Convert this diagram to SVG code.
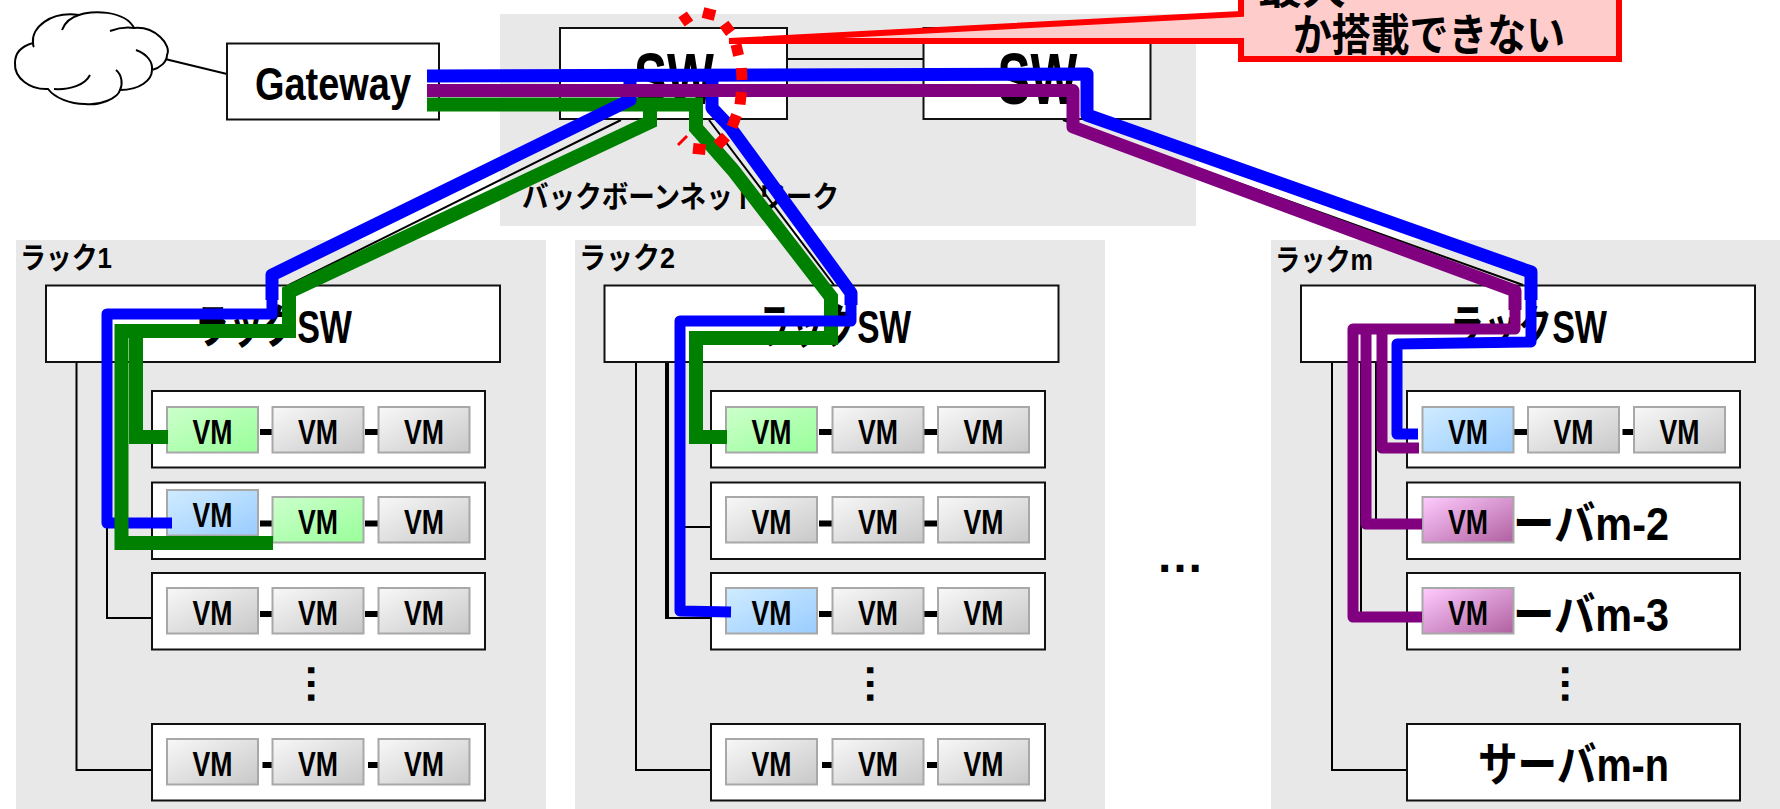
<svg xmlns="http://www.w3.org/2000/svg" width="1780" height="809" viewBox="0 0 1780 809">
<style>
text{font-family:"Liberation Sans","Noto Sans CJK JP",sans-serif;font-weight:bold;fill:#000;text-anchor:middle}
.area{fill:#e8e8e8}
.box{fill:#fff;stroke:#111;stroke-width:2}
.vm rect{stroke:#a8a8a8;stroke-width:2}
.vm text{font-size:35px}
.gray rect{fill:url(#gGray)}
.green rect{fill:url(#gGreen)}
.blue rect{fill:url(#gBlue)}
.pink rect{fill:url(#gPink)}
.thin{fill:none;stroke:#000;stroke-width:2}
.dash{fill:none;stroke:#000;stroke-width:6}
.path{fill:none;stroke-width:13}
.pb{stroke:#0000ff;stroke-linejoin:round}
.pg{stroke:#008000;stroke-linejoin:miter;stroke-width:14}
.pp{stroke:#800080;stroke-linejoin:round}
.in{stroke-width:11}
.sw{font-size:47px}
.big{font-size:72px}
.lab{font-size:30px}
</style>
<defs>
<linearGradient id="gGray" x1="0" y1="0" x2="1" y2="1"><stop offset="0" stop-color="#f8f8f8"/><stop offset="1" stop-color="#c8c8c8"/></linearGradient>
<linearGradient id="gGreen" x1="0" y1="0" x2="1" y2="1"><stop offset="0" stop-color="#ccffcc"/><stop offset="1" stop-color="#99ff99"/></linearGradient>
<linearGradient id="gBlue" x1="0" y1="0" x2="1" y2="1"><stop offset="0" stop-color="#d0ecff"/><stop offset="1" stop-color="#99ccff"/></linearGradient>
<linearGradient id="gPink" x1="0" y1="0" x2="1" y2="1"><stop offset="0" stop-color="#ffccff"/><stop offset="1" stop-color="#b060a0"/></linearGradient>
</defs>

<g id="areas">
<rect class="area" x="500" y="14" width="696" height="212"/>
<rect class="area" x="16" y="240" width="530" height="569"/>
<rect class="area" x="575" y="240" width="530" height="569"/>
<rect class="area" x="1271" y="240" width="509" height="569"/>
<text class="lab" x="680.5" y="207" textLength="317" lengthAdjust="spacingAndGlyphs">バックボーンネットワーク</text>
<text class="lab" x="66" y="268" textLength="92" lengthAdjust="spacingAndGlyphs">ラック1</text>
<text class="lab" x="627" y="268" textLength="96" lengthAdjust="spacingAndGlyphs">ラック2</text>
<text class="lab" x="1324" y="270" textLength="98" lengthAdjust="spacingAndGlyphs">ラックm</text>
</g>

<g id="base-links">
<path class="thin" d="M165,59L227,74"/>
<path class="thin" d="M787,59H923" stroke-width="3"/>
<path class="thin" d="M621,120L289,285M709,120L834,285M1063,120L1523,285"/>
<path class="thin" d="M76.5,362V770H152M107,362V618H152"/>
<path class="thin" d="M636,362V770H711M666,362V618H711M668,362V618M680,527H711"/>
<path class="thin" d="M1332,362V770H1407M1376,362V524M1361,362V617"/>
</g>

<g id="cloud">
<path d="M33,43C31,28 50,11 79,15C90,10 125,10 134,28C155,26 172,45 167,55C167,62 160,68 152,70C152,80 140,90 120,90C118,98 100,106 85,104C70,104 55,98 48,89C30,90 14,78 15,63C15,52 22,46 33,43Z" fill="#fff" stroke="#000" stroke-width="2"/>
<path d="M62,30C65,22 72,17 79,15M110,31C118,28 127,27 134,28M136,50C147,54 153,62 152,70M116,70C122,75 123,84 120,90M90,75C85,85 70,90 54,89M33,43Q33,46 34,47" fill="none" stroke="#000" stroke-width="2"/>
</g>

<g id="gateway"><rect class="box" x="227" y="43.5" width="212" height="76"/><text x="333" y="100" font-size="46" textLength="156" lengthAdjust="spacingAndGlyphs">Gateway</text></g>
<g id="sw1"><rect class="box" x="560" y="28" width="227" height="91"/><text class="big" x="674" y="104" textLength="80" lengthAdjust="spacingAndGlyphs">SW</text></g>
<g id="sw2"><rect class="box" x="923.5" y="28" width="227" height="91"/><text class="big" x="1037.5" y="104" textLength="80" lengthAdjust="spacingAndGlyphs">SW</text></g>

<g id="rack1-sw"><rect class="box" x="46" y="285.5" width="454" height="76.5"/><text class="sw" x="273.5" y="343" textLength="157" lengthAdjust="spacingAndGlyphs">ラックSW</text></g>
<g id="rack2-sw"><rect class="box" x="604.5" y="285.5" width="454" height="76.5"/><text class="sw" x="834" y="343" textLength="154" lengthAdjust="spacingAndGlyphs">ラックSW</text></g>
<g id="rackm-sw"><rect class="box" x="1301" y="285.5" width="454" height="76.5"/><text class="sw" x="1528.5" y="343" textLength="157" lengthAdjust="spacingAndGlyphs">ラックSW</text></g>

<g id="rack1-servers">
<rect class="box" x="152" y="391" width="333" height="76.5"/>
<rect class="box" x="152" y="482.5" width="333" height="76.5"/>
<rect class="box" x="152" y="573" width="333" height="76.5"/>
<rect class="box" x="152" y="724" width="333" height="76.5"/>
<path class="dash" d="M260,432H272M365,432H378M260,523.5H272M365,523.5H378M260,614H272M365,614H378M262.500,765H272M368,765H378"/>
<g id="r1s1v1" class="vm green"><rect x="167" y="407" width="91" height="45.5"/><text x="212.5" y="443.5" textLength="40" lengthAdjust="spacingAndGlyphs">VM</text></g>
<g id="r1s1v2" class="vm gray"><rect x="272.5" y="407" width="91" height="45.5"/><text x="318" y="443.5" textLength="40" lengthAdjust="spacingAndGlyphs">VM</text></g>
<g id="r1s1v3" class="vm gray"><rect x="378.5" y="407" width="91" height="45.5"/><text x="424" y="443.5" textLength="40" lengthAdjust="spacingAndGlyphs">VM</text></g>
<g id="r1s2v1" class="vm blue"><rect x="167" y="490" width="91" height="45.5"/><text x="212.5" y="527" textLength="40" lengthAdjust="spacingAndGlyphs">VM</text></g>
<g id="r1s2v2" class="vm green"><rect x="272.5" y="497" width="91" height="45.5"/><text x="318" y="534" textLength="40" lengthAdjust="spacingAndGlyphs">VM</text></g>
<g id="r1s2v3" class="vm gray"><rect x="378.5" y="497" width="91" height="45.5"/><text x="424" y="534" textLength="40" lengthAdjust="spacingAndGlyphs">VM</text></g>
<g id="r1s3v1" class="vm gray"><rect x="167" y="588" width="91" height="45.5"/><text x="212.5" y="625" textLength="40" lengthAdjust="spacingAndGlyphs">VM</text></g>
<g id="r1s3v2" class="vm gray"><rect x="272.5" y="588" width="91" height="45.5"/><text x="318" y="625" textLength="40" lengthAdjust="spacingAndGlyphs">VM</text></g>
<g id="r1s3v3" class="vm gray"><rect x="378.5" y="588" width="91" height="45.5"/><text x="424" y="625" textLength="40" lengthAdjust="spacingAndGlyphs">VM</text></g>
<g id="r1s4v1" class="vm gray"><rect x="167" y="739" width="91" height="45.5"/><text x="212.5" y="776" textLength="40" lengthAdjust="spacingAndGlyphs">VM</text></g>
<g id="r1s4v2" class="vm gray"><rect x="272.5" y="739" width="91" height="45.5"/><text x="318" y="776" textLength="40" lengthAdjust="spacingAndGlyphs">VM</text></g>
<g id="r1s4v3" class="vm gray"><rect x="378.5" y="739" width="91" height="45.5"/><text x="424" y="776" textLength="40" lengthAdjust="spacingAndGlyphs">VM</text></g>
<text x="307.5" y="684" font-size="43" transform="rotate(90 307.5 684)">…</text>
</g>

<g id="rack2-servers">
<rect class="box" x="711" y="391" width="334" height="76.5"/>
<rect class="box" x="711" y="482.5" width="334" height="76.5"/>
<rect class="box" x="711" y="573" width="334" height="76.5"/>
<rect class="box" x="711" y="724" width="334" height="76.5"/>
<path class="dash" d="M819,432H832M924,432H938M819,523.5H832M924,523.5H938M819,614H832M924,614H938M822,765H832M927,765H938"/>
<g id="r2s1v1" class="vm green"><rect x="726" y="407" width="91" height="45.5"/><text x="771.5" y="443.5" textLength="40" lengthAdjust="spacingAndGlyphs">VM</text></g>
<g id="r2s1v2" class="vm gray"><rect x="832.5" y="407" width="91" height="45.5"/><text x="878" y="443.5" textLength="40" lengthAdjust="spacingAndGlyphs">VM</text></g>
<g id="r2s1v3" class="vm gray"><rect x="938" y="407" width="91" height="45.5"/><text x="983.5" y="443.5" textLength="40" lengthAdjust="spacingAndGlyphs">VM</text></g>
<g id="r2s2v1" class="vm gray"><rect x="726" y="497" width="91" height="45.5"/><text x="771.5" y="534" textLength="40" lengthAdjust="spacingAndGlyphs">VM</text></g>
<g id="r2s2v2" class="vm gray"><rect x="832.5" y="497" width="91" height="45.5"/><text x="878" y="534" textLength="40" lengthAdjust="spacingAndGlyphs">VM</text></g>
<g id="r2s2v3" class="vm gray"><rect x="938" y="497" width="91" height="45.5"/><text x="983.5" y="534" textLength="40" lengthAdjust="spacingAndGlyphs">VM</text></g>
<g id="r2s3v1" class="vm blue"><rect x="726" y="588" width="91" height="45.5"/><text x="771.5" y="625" textLength="40" lengthAdjust="spacingAndGlyphs">VM</text></g>
<g id="r2s3v2" class="vm gray"><rect x="832.5" y="588" width="91" height="45.5"/><text x="878" y="625" textLength="40" lengthAdjust="spacingAndGlyphs">VM</text></g>
<g id="r2s3v3" class="vm gray"><rect x="938" y="588" width="91" height="45.5"/><text x="983.5" y="625" textLength="40" lengthAdjust="spacingAndGlyphs">VM</text></g>
<g id="r2s4v1" class="vm gray"><rect x="726" y="739" width="91" height="45.5"/><text x="771.5" y="776" textLength="40" lengthAdjust="spacingAndGlyphs">VM</text></g>
<g id="r2s4v2" class="vm gray"><rect x="832.5" y="739" width="91" height="45.5"/><text x="878" y="776" textLength="40" lengthAdjust="spacingAndGlyphs">VM</text></g>
<g id="r2s4v3" class="vm gray"><rect x="938" y="739" width="91" height="45.5"/><text x="983.5" y="776" textLength="40" lengthAdjust="spacingAndGlyphs">VM</text></g>
<text x="866.5" y="684" font-size="43" transform="rotate(90 866.5 684)">…</text>
</g>

<g id="rackm-servers">
<rect class="box" x="1407" y="391" width="333" height="76.5"/>
<rect class="box" x="1407" y="482.5" width="333" height="76.5"/>
<rect class="box" x="1407" y="573" width="333" height="76.5"/>
<rect class="box" x="1407" y="724" width="333" height="76.5"/>
<text class="sw" x="1591" y="540" textLength="156" lengthAdjust="spacingAndGlyphs">ーバm-2</text>
<text class="sw" x="1591" y="631" textLength="156" lengthAdjust="spacingAndGlyphs">ーバm-3</text>
<text class="sw" x="1573.5" y="781" textLength="191" lengthAdjust="spacingAndGlyphs">サーバm-n</text>
<path class="dash" d="M1514,432H1528M1622.500,432H1634"/>
<g id="rms1v1" class="vm blue"><rect x="1422.5" y="407" width="91" height="45.5"/><text x="1468" y="443.5" textLength="40" lengthAdjust="spacingAndGlyphs">VM</text></g>
<g id="rms1v2" class="vm gray"><rect x="1528" y="407" width="91" height="45.5"/><text x="1573.5" y="443.5" textLength="40" lengthAdjust="spacingAndGlyphs">VM</text></g>
<g id="rms1v3" class="vm gray"><rect x="1634" y="407" width="91" height="45.5"/><text x="1679.5" y="443.5" textLength="40" lengthAdjust="spacingAndGlyphs">VM</text></g>
<g id="rms2v1" class="vm pink"><rect x="1422.5" y="497" width="91" height="45.5"/><text x="1468" y="534" textLength="40" lengthAdjust="spacingAndGlyphs">VM</text></g>
<g id="rms3v1" class="vm pink"><rect x="1422.5" y="588" width="91" height="45.5"/><text x="1468" y="625" textLength="40" lengthAdjust="spacingAndGlyphs">VM</text></g>
<text x="1562" y="684" font-size="43" transform="rotate(90 1562 684)">…</text>
</g>

<text id="rack-dots" x="1180" y="572" font-size="48">…</text>

<g id="connectors">
<path class="path pg" d="M427,104.500H703M696,104V128L733,170L831,297V338H696V437H727"/>
<path class="path pb" d="M630,76V100L272,275V300"/>
<path class="path pb in" d="M272,275V314H107V523H172"/>
<path class="path pg" d="M650,98V122L289,292V331H121.500V543H273M136,331V437H168"/>
<path class="path pb" d="M427,76L1087,74V115L1531,272V300"/>
<path class="path pb in" d="M1531,272V342L1397,344V434H1418"/>
<path class="path pb" d="M712,76V108L730,127L851,293V305"/>
<path class="path pb in" d="M851,293V321H680V611L731,612"/>
<path class="path pp" d="M427,90.500H1073V127L1515,291V310"/>
<path class="path pp in" d="M1515,291V329H1353V617H1422M1366,329V524H1422M1382,329V448H1419"/>
</g>

<g id="callout">
<path d="M1241,-40H1619V59H1241V41H729L1241,14Z" fill="#ffcccc" stroke="#ff0000" stroke-width="6"/>
<text x="1302" y="4" font-size="44" textLength="88" lengthAdjust="spacingAndGlyphs">最大</text>
<text x="1429" y="51" font-size="44" textLength="272" lengthAdjust="spacingAndGlyphs">か搭載できない</text>
</g>

<g id="highlight">
<path d="M681.500,22L690,16M703,12.500L715,15.500M724,24L730.500,32.600M736,44.500L738.600,55.500M741.400,68L742,80M741.400,92L740,104.500M736.500,115L732,127M726,136.700L717.400,145.300M705.500,149.600L693,148.400" fill="none" stroke="#ff0000" stroke-width="11"/>
<path d="M687,136L678,145" fill="none" stroke="#ff0000" stroke-width="3"/>
</g>
</svg>
